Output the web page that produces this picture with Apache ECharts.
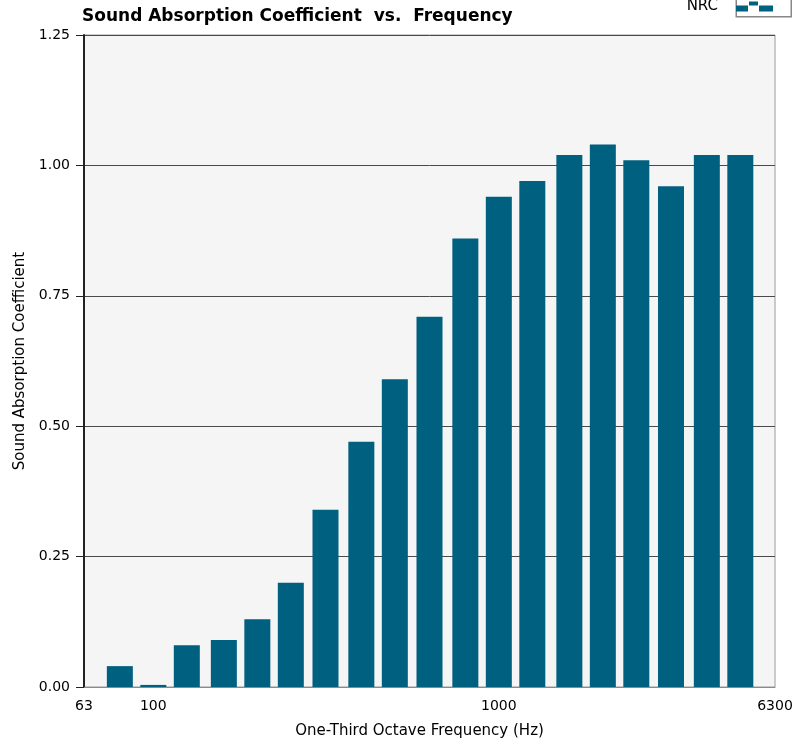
<!DOCTYPE html>
<html>
<head>
<meta charset="utf-8">
<script src="https://cdn.jsdelivr.net/npm/echarts@6/dist/echarts.min.js"></script>
<style>
  html, body { margin: 0; padding: 0; background: #ffffff; }
  #chart { width: 800px; height: 746px; }
</style>
</head>
<body>
<div id="chart"></div>
<script>
// One-third octave band centre frequencies (Hz)
const frequencies = [80, 100, 125, 160, 200, 250, 315, 400, 500, 630, 800, 1000, 1250, 1600, 2000, 2500, 3150, 4000, 5000];
// Measured sound absorption coefficient per band
const absorption = [0.04, 0.004, 0.08, 0.09, 0.13, 0.20, 0.34, 0.47, 0.59, 0.71, 0.86, 0.94, 0.97, 1.02, 1.04, 1.01, 0.96, 1.02, 1.02];
// Axis extents
const freqRange = [63, 6300];
const coefRange = [0, 1.25];
const coefStep = 0.25;

const FONT = 'DejaVu Sans, Verdana, sans-serif';
const BAR_COLOR = '#00607f';

const chart = echarts.init(document.getElementById('chart'), null, { renderer: 'canvas' });

chart.setOption({
  animation: false,
  backgroundColor: '#ffffff',
  title: {
    text: 'Sound Absorption Coefficient  vs.  Frequency',
    left: 77,
    top: 3,
    textStyle: { fontFamily: FONT, fontSize: 17, fontWeight: 'bold', color: '#000' }
  },
  legend: {
    data: ['NRC'],
    right: 22,
    top: -6,
    align: 'right',
    itemWidth: 37,
    itemHeight: 14,
    icon: 'path://M0,4 h12 v6 h-12z M13,0 h9 v4 h-9z M23,4 h14 v6 h-14z',
    textStyle: { fontFamily: FONT, fontSize: 15, color: '#000', padding: [0, 13, 0, 0] }
  },
  graphic: [{
    type: 'rect',
    right: 8,
    top: -4,
    shape: { width: 55, height: 20 },
    style: { fill: '#ffffff', stroke: '#888', lineWidth: 1.5 },
    z: -1
  }],
  grid: {
    left: 84,
    right: 25,
    top: 35,
    bottom: 59,
    show: true,
    backgroundColor: '#f5f5f5',
    borderColor: '#9a9a9a',
    borderWidth: 1
  },
  xAxis: {
    type: 'log',
    logBase: 10,
    min: freqRange[0],
    max: freqRange[1],
    name: 'One-Third Octave Frequency (Hz)',
    nameLocation: 'middle',
    nameGap: 37,
    nameTextStyle: { fontFamily: FONT, fontSize: 15, color: '#000', padding: [0, 20, 0, 0] },
    axisLine: { show: true, lineStyle: { color: '#8a8a8a', width: 1 } },
    axisTick: { show: false },
    splitLine: { show: false },
    minorTick: { show: false },
    axisLabel: {
      showMinLabel: true,
      showMaxLabel: true,
      margin: 12,
      fontFamily: FONT,
      fontSize: 14,
      color: '#000',
      formatter: v => String(Math.round(v))
    }
  },
  yAxis: {
    type: 'value',
    min: coefRange[0],
    max: coefRange[1],
    interval: coefStep,
    name: 'Sound Absorption Coefficient',
    nameLocation: 'middle',
    nameGap: 56,
    nameTextStyle: { fontFamily: FONT, fontSize: 15, color: '#000' },
    axisLine: { show: true, lineStyle: { color: '#222', width: 2 } },
    axisTick: { show: true, length: 8, lineStyle: { color: '#222', width: 1 } },
    axisLabel: {
      margin: 14,
      fontFamily: FONT,
      fontSize: 14,
      color: '#000',
      formatter: v => v.toFixed(2)
    },
    splitLine: { show: true, lineStyle: { color: '#4a4a4a', width: 1 } }
  },
  series: [{
    name: 'NRC',
    type: 'custom',
    itemStyle: { color: BAR_COLOR },
    data: frequencies.map((f, i) => [f, absorption[i]]),
    renderItem: (params, api) => {
      const f = api.value(0);
      const base = api.coord([f, 0]);
      const top = api.coord([f, api.value(1)]);
      const w = 26;
      return {
        type: 'rect',
        shape: { x: base[0] - w / 2, y: top[1], width: w, height: Math.max(base[1] - top[1], 1.5) },
        style: api.style()
      };
    },
    z: 3
  }]
});
</script>
</body>
</html>
